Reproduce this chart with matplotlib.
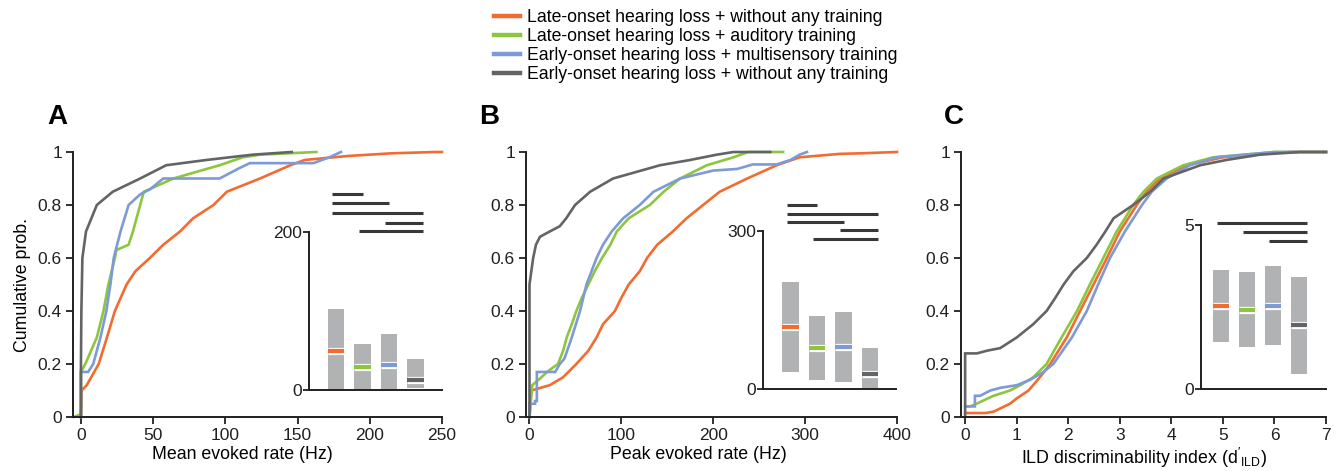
import matplotlib
matplotlib.use("Agg")
import matplotlib.pyplot as plt
from matplotlib.lines import Line2D

plt.rcParams["font.family"] = ["Liberation Sans", "DejaVu Sans"]
plt.rcParams["mathtext.fontset"] = "custom"
plt.rcParams["mathtext.rm"] = "Liberation Sans"
plt.rcParams["mathtext.it"] = "Liberation Sans:italic"

GROUPS = [
    "Late-onset hearing loss + without any training",
    "Late-onset hearing loss + auditory training",
    "Early-onset hearing loss + multisensory training",
    "Early-onset hearing loss + without any training",
]
COLORS = ["#f26b31", "#8cc63f", "#7d9ad6", "#636466"]

# ---- panel A: mean evoked rate (Hz), cumulative curves
A_ORANGE_X = [0, 0.5, 4, 12.3, 18, 23.5, 31.6, 37.7, 47.7, 57, 68.6, 77.7, 91.8, 101, 124, 145, 155, 185, 215, 245, 250]
A_ORANGE_Y = [0, 0.10, 0.12, 0.2, 0.3, 0.4, 0.5, 0.55, 0.6, 0.65, 0.7, 0.75, 0.8, 0.85, 0.9, 0.95, 0.97, 0.985, 0.995, 1.0, 1.0]
A_GREEN_X = [-5, 0, 0, 3, 11, 15.6, 19, 23.5, 24.5, 33, 36, 41, 43.5, 64, 96, 112, 124, 163]
A_GREEN_Y = [0, 0.01, 0.17, 0.2, 0.3, 0.4, 0.5, 0.6, 0.63, 0.65, 0.7, 0.8, 0.85, 0.9, 0.95, 0.98, 0.99, 1.0]
A_BLUE_X = [0, 0, 5, 8.5, 11, 13.5, 17.6, 20.4, 22.7, 27.4, 33, 41, 48, 57, 96, 110, 117, 161, 172, 180]
A_BLUE_Y = [0, 0.17, 0.17, 0.2, 0.25, 0.3, 0.4, 0.5, 0.6, 0.7, 0.8, 0.84, 0.86, 0.9, 0.9, 0.94, 0.958, 0.958, 0.98, 1.0]
A_GRAY_X = [0, 0, 0.3, 1, 3.5, 11, 22, 41, 59, 87, 119, 146]
A_GRAY_Y = [0, 0.2, 0.4, 0.6, 0.7, 0.8, 0.85, 0.9, 0.95, 0.97, 0.99, 1.0]

# inset A: bar bottom / top and median
A_BOX_LO = [0, 0, 0, 2]
A_BOX_HI = [102, 58, 71, 39]
A_MED = [50, 29, 32, 13]
A_PAIRS = [(0, 1), (0, 2), (0, 3), (2, 3), (1, 3)]
A_PAIR_Y = [248, 237, 224, 211, 201]

# ---- panel B: peak evoked rate (Hz)
B_ORANGE_X = [0, 2, 22, 36.6, 51, 64, 73, 80, 93, 100, 108, 120, 128, 139, 156, 171, 189, 207, 237, 269, 294, 338, 360, 400]
B_ORANGE_Y = [0, 0.10, 0.12, 0.15, 0.2, 0.25, 0.3, 0.35, 0.4, 0.45, 0.5, 0.55, 0.6, 0.65, 0.7, 0.75, 0.8, 0.85, 0.9, 0.95, 0.98, 0.993, 0.995, 1.0]
B_GREEN_X = [0, 3, 13, 19, 31, 36.6, 40.5, 46, 51, 57, 64, 71, 79, 88, 95, 108, 131, 146, 164, 193, 222, 238, 276]
B_GREEN_Y = [0, 0.12, 0.15, 0.17, 0.2, 0.25, 0.3, 0.35, 0.4, 0.45, 0.5, 0.55, 0.6, 0.65, 0.7, 0.75, 0.8, 0.85, 0.9, 0.95, 0.98, 1.0, 1.0]
B_BLUE_X = [0, 0, 6, 6, 8, 8, 28, 33, 38, 46, 55, 62, 73, 80, 89.5, 102, 120, 135, 164, 200, 226, 243, 269, 284, 294, 302]
B_BLUE_Y = [0, 0.05, 0.05, 0.06, 0.06, 0.17, 0.17, 0.2, 0.22, 0.3, 0.4, 0.5, 0.6, 0.65, 0.7, 0.75, 0.8, 0.85, 0.9, 0.93, 0.936, 0.953, 0.953, 0.97, 0.99, 1.0]
B_GRAY_X = [0, 0, 4, 7, 11.4, 22, 33, 40, 49.6, 66, 91, 142, 175, 204, 222, 262]
B_GRAY_Y = [0, 0.5, 0.6, 0.65, 0.68, 0.7, 0.72, 0.75, 0.8, 0.85, 0.9, 0.95, 0.97, 0.99, 1.0, 1.0]

B_BOX_LO = [33, 17, 14, 0]
B_BOX_HI = [204, 138, 146, 78]
B_MED = [118, 78, 80, 28]
B_PAIRS = [(0, 1), (0, 3), (0, 2), (2, 3), (1, 3)]
B_PAIR_Y = [349, 332, 318, 302, 285]

# ---- panel C: ILD discriminability index
C_ORANGE_X = [0, 0.4, 0.55, 0.87, 1.0, 1.23, 1.45, 1.65, 1.97, 2.23, 2.49, 2.75, 3.0, 3.33, 3.52, 3.78, 4.3, 5.0, 5.6, 6.3, 7.0]
C_ORANGE_Y = [0.015, 0.015, 0.02, 0.05, 0.07, 0.1, 0.15, 0.2, 0.3, 0.4, 0.5, 0.6, 0.7, 0.8, 0.85, 0.9, 0.95, 0.98, 0.99, 1.0, 1.0]
C_GREEN_X = [0.02, 0.1, 0.22, 0.55, 0.87, 1.07, 1.32, 1.58, 1.87, 2.17, 2.42, 2.68, 2.94, 3.26, 3.46, 3.72, 4.23, 4.81, 6.0, 7.0]
C_GREEN_Y = [0.04, 0.04, 0.05, 0.08, 0.1, 0.12, 0.15, 0.2, 0.3, 0.4, 0.5, 0.6, 0.7, 0.8, 0.85, 0.9, 0.95, 0.98, 1.0, 1.0]
C_BLUE_X = [0, 0.19, 0.19, 0.29, 0.49, 0.68, 1.0, 1.26, 1.52, 1.71, 2.07, 2.36, 2.58, 2.81, 3.1, 3.43, 3.62, 3.91, 4.36, 4.88, 6.0, 7.0]
C_BLUE_Y = [0.04, 0.04, 0.08, 0.08, 0.1, 0.11, 0.12, 0.14, 0.17, 0.2, 0.3, 0.4, 0.5, 0.6, 0.7, 0.8, 0.85, 0.9, 0.95, 0.98, 1.0, 1.0]
C_GRAY_X = [0, 0, 0.23, 0.42, 0.68, 1.0, 1.32, 1.58, 1.75, 1.91, 2.1, 2.36, 2.55, 2.72, 2.88, 3.26, 3.59, 3.85, 4.56, 5.07, 5.72, 6.5, 7.0]
C_GRAY_Y = [0, 0.24, 0.24, 0.25, 0.26, 0.3, 0.35, 0.4, 0.45, 0.5, 0.55, 0.6, 0.65, 0.7, 0.75, 0.8, 0.85, 0.9, 0.95, 0.97, 0.99, 1.0, 1.0]

C_BOX_LO = [1.43, 1.27, 1.33, 0.47]
C_BOX_HI = [3.64, 3.57, 3.74, 3.42]
C_MED = [2.54, 2.41, 2.54, 1.94]
C_PAIRS = [(0, 3), (1, 3), (2, 3)]
C_PAIR_Y = [5.07, 4.79, 4.5]

INK = "#231f20"
BOX_GRAY = "#b1b2b4"
W, H = 1344, 471
TICK_FS = 12.5
LABEL_FS = 12.8


def px_box(left, right, bottom, top):
    return [left / W, 1 - bottom / H, (right - left) / W, (bottom - top) / H]


def style_axes(ax):
    for side in ["top", "right"]:
        ax.spines[side].set_visible(False)
    for side in ["left", "bottom"]:
        ax.spines[side].set_linewidth(1.4)
        ax.spines[side].set_color(INK)
    ax.tick_params(direction="out", length=5, width=1.3, labelsize=TICK_FS, colors=INK, pad=3)


def draw_cdf(ax, curves, xlim, xticks, xlabel, label_x):
    for (xs, ys), c in zip(curves, COLORS):
        ax.plot(xs, ys, color=c, lw=1.9, clip_on=False, solid_joinstyle="miter")
    ax.set_xlim(*xlim)
    ax.set_ylim(0, 1)
    ax.set_xticks(xticks)
    ax.set_xticklabels([f"{t:g}" for t in xticks])
    ax.set_yticks([0, 0.2, 0.4, 0.6, 0.8, 1.0])
    ax.set_yticklabels(["0", "0.2", "0.4", "0.6", "0.8", "1"])
    ax.set_xlabel(xlabel, fontsize=LABEL_FS, x=label_x, labelpad=2)
    style_axes(ax)


def draw_inset(ax, lo, hi, med, pairs, pair_y, ymax, xlim):
    pos = list(range(len(lo)))
    heights = [h - l for l, h in zip(lo, hi)]
    ax.bar(pos, heights, bottom=lo, width=0.62, color=BOX_GRAY, zorder=1)
    for p, m, c in zip(pos, med, COLORS):
        ax.plot([p - 0.31, p + 0.31], [m, m], color="white", lw=5.2, solid_capstyle="butt", zorder=2)
        ax.plot([p - 0.31, p + 0.31], [m, m], color=c, lw=3.0, solid_capstyle="butt", zorder=3)
    for (i, j), y in zip(pairs, pair_y):
        x0 = i - 0.15
        x1 = j + 0.3 if j == len(lo) - 1 else j + 0.0
        ax.plot([x0, x1], [y, y], color="#38383a", lw=2.2, solid_capstyle="butt", clip_on=False)
    ax.set_xlim(*xlim)
    ax.set_ylim(0, ymax)
    ax.set_yticks([0, ymax])
    ax.set_yticklabels(["0", f"{ymax:g}"])
    ax.set_xticks([])
    ax.patch.set_alpha(0)
    style_axes(ax)
    ax.tick_params(axis="y", length=4, pad=1)


fig = plt.figure(figsize=(W / 100, H / 100), dpi=100)

axA = fig.add_axes(px_box(73, 442, 417, 152))
draw_cdf(axA, [(A_ORANGE_X, A_ORANGE_Y), (A_GREEN_X, A_GREEN_Y), (A_BLUE_X, A_BLUE_Y), (A_GRAY_X, A_GRAY_Y)],
         (-5.5, 250), [0, 50, 100, 150, 200, 250], "Mean evoked rate (Hz)", 0.46)
axA.set_ylabel("Cumulative prob.", fontsize=LABEL_FS, labelpad=5)

axB = fig.add_axes(px_box(526, 897, 417, 152))
draw_cdf(axB, [(B_ORANGE_X, B_ORANGE_Y), (B_GREEN_X, B_GREEN_Y), (B_BLUE_X, B_BLUE_Y), (B_GRAY_X, B_GRAY_Y)],
         (-3.8, 400), [0, 100, 200, 300, 400], "Peak evoked rate (Hz)", 0.465)

axC = fig.add_axes(px_box(961, 1326, 417, 152))
draw_cdf(axC, [(C_ORANGE_X, C_ORANGE_Y), (C_GREEN_X, C_GREEN_Y), (C_BLUE_X, C_BLUE_Y), (C_GRAY_X, C_GRAY_Y)],
         (-0.08, 7), [0, 1, 2, 3, 4, 5, 6, 7], r"ILD discriminability index ($\mathrm{d}'_{\mathrm{ILD}}$)", 0.5)

insA = fig.add_axes(px_box(309, 442, 390, 232))
draw_inset(insA, A_BOX_LO, A_BOX_HI, A_MED, A_PAIRS, A_PAIR_Y, 200, (-1.02, 4.0))
insB = fig.add_axes(px_box(763, 896, 389, 231))
draw_inset(insB, B_BOX_LO, B_BOX_HI, B_MED, B_PAIRS, B_PAIR_Y, 300, (-1.04, 3.98))
insC = fig.add_axes(px_box(1201, 1326, 389, 225))
draw_inset(insC, C_BOX_LO, C_BOX_HI, C_MED, C_PAIRS, C_PAIR_Y, 5, (-0.78, 4.03))

for letter, x in zip(["A", "B", "C"], [47, 479, 944]):
    fig.text(x / W, 1 - 124 / H, letter, fontsize=20, fontweight="bold", color="black")

handles = [Line2D([], [], color=c, lw=3.2) for c in COLORS]
fig.legend(handles, GROUPS, loc="upper left", bbox_to_anchor=(494 / W, 1 - 9 / H), frameon=False,
           fontsize=12.7, handlelength=1.45, handletextpad=0.4, labelspacing=0.12, borderpad=0,
           borderaxespad=0)

fig.savefig("out.png", dpi=100)
